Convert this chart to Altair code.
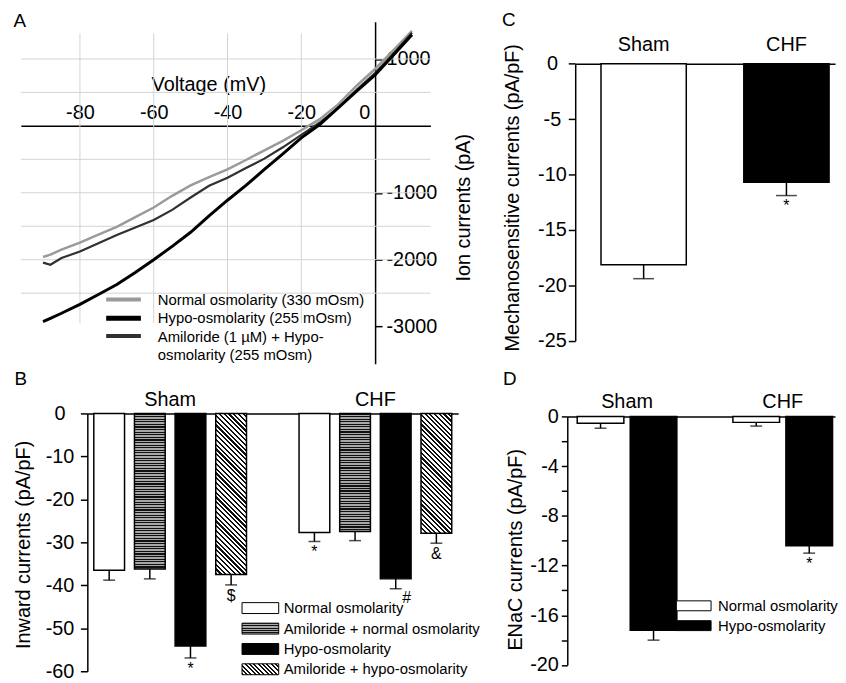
import math
import altair as alt
import pandas as pd

FONT = "Liberation Sans"

# ---------------- Panel A: I-V curves ----------------
a_voltage = [-90, -88, -85, -80, -75, -70, -65, -60, -55, -50, -45, -40,
             -35, -30, -25, -20, -15, -10, -5, 0, 5, 10]
a_normal = [-1960, -1925, -1850, -1745, -1625, -1510, -1365, -1220, -1045, -890, -765, -650,
            -510, -365, -225, -65, 100, 320, 600, 850, 1130, 1420]
a_hypo = [-2925, -2875, -2800, -2667, -2520, -2370, -2190, -2000, -1800, -1590, -1345, -1111,
          -890, -650, -420, -180, 20, 270, 520, 760, 1060, 1360]
a_amiloride = [-2044, -2075, -1975, -1877, -1755, -1630, -1520, -1407, -1255, -1070, -895, -775,
               -630, -490, -320, -135, 50, 270, 540, 790, 1080, 1390]
a_series = ["Normal osmolarity (330 mOsm)", "Hypo-osmolarity (255 mOsm)",
            "Amiloride (1 \u00b5M) + Hypo-\nosmolarity (255 mOsm)"]
a_x_ticks = [-80, -60, -40, -20, 0]
a_y_ticks = [1000, -1000, -2000, -3000]
a_grid_v = [-80, -60, -40, -20]
a_grid_h = [1000, 500, -500, -1000, -1500, -2000, -2500]
a_grid_extent_v = [-2950, 1380]
a_grid_extent_h = [-96, 15]

# ---------------- Panel B: inward currents ----------------
b_groups = ["Sham", "CHF"]
b_conditions = ["Normal osmolarity", "Amiloride + normal osmolarity",
                "Hypo-osmolarity", "Amiloride + hypo-osmolarity"]
b_sham_mean = [-36.5, -36.2, -54.1, -37.5]
b_sham_sem = [2.3, 2.3, 2.8, 2.4]
b_sham_sig = ["", "", "*", "$"]
b_chf_mean = [-27.7, -27.5, -38.5, -27.9]
b_chf_sem = [2.1, 2.1, 2.3, 2.3]
b_chf_sig = ["*", "", "#", "&"]
b_y_ticks = [0, -10, -20, -30, -40, -50, -60]

# ---------------- Panel C: mechanosensitive currents ----------------
c_groups = ["Sham", "CHF"]
c_mean = [-18.15, -10.7]
c_sem = [1.25, 1.2]
c_sig = ["", "*"]
c_y_ticks = [0, -5, -10, -15, -20, -25]

# ---------------- Panel D: ENaC currents ----------------
d_groups = ["Sham", "CHF"]
d_conditions = ["Normal osmolarity", "Hypo-osmolarity"]
d_sham_mean = [-0.55, -17.2]
d_sham_sem = [0.4, 0.8]
d_sham_sig = ["", ""]
d_chf_mean = [-0.48, -10.4]
d_chf_sem = [0.3, 0.6]
d_chf_sig = ["", "*"]
d_y_ticks = [0, -2, -4, -6, -8, -10, -12, -14, -16, -18, -20]


# ---------------- pattern fills (styles) ----------------
def _stops(n, frac, dark, light):
    stops = []
    for k in range(n):
        a, b, c = k / n, (k + frac) / n, (k + 1) / n
        stops += [{"offset": round(a, 5), "color": dark}, {"offset": round(b, 5), "color": dark},
                  {"offset": round(b, 5), "color": light}, {"offset": round(c, 5), "color": light}]
    return stops


def stripes_h(h, period=2.6, dark="#111111", light="#a8a8a8", frac=0.45):
    n = max(1, int(round(h / period)))
    return {"gradient": "linear", "x1": 0, "y1": 0, "x2": 0, "y2": 1,
            "stops": _stops(n, frac, dark, light)}


def hatch(w, h, period=3.4, dark="#111111", light="#ffffff", frac=0.45):
    k = (w + h) / (w * w + h * h)
    n = max(1, int(round((w + h) / math.sqrt(2) / period)))
    return {"gradient": "linear", "x1": 0, "y1": 1, "x2": round(k * w, 5),
            "y2": round(1 - k * h, 5), "stops": _stops(n, frac, dark, light)}


def letter(txt, x, y):
    return alt.Chart(pd.DataFrame({"t": [txt]})).mark_text(
        fontSize=19, align="center", baseline="middle").encode(
        x=alt.value(x), y=alt.value(y), text="t:N")


# =============== Panel A ===============
A_W, A_H = 374, 345
a_xs = alt.Scale(domain=[-96, 15], range=[-67, 346], nice=False, zero=False)
a_ys = alt.Scale(domain=[-3556, 1556], nice=False, zero=False)
a_xaxis = alt.Axis(orient="top", offset=-105, values=a_x_ticks, ticks=False, labelPadding=3,
                   labelExpr="toString(datum.value)",
                   labelOffset={"condition": {"test": "datum.value === 0", "value": -11}, "value": 0},
                   title="Voltage (mV)", titleX=122, titleY=-36, titleBaseline="alphabetic",
                   titleAlign="center", titleAngle=0)
a_yaxis = alt.Axis(orient="right", offset=-83.8, values=a_y_ticks, tickSize=7, labelPadding=4,
                   labelExpr="toString(datum.value)", title="Ion currents (pA)", titleAngle=270,
                   titleX=95, titleY=187, titleBaseline="alphabetic", titleAlign="center")


def AX(f):
    return alt.X(f, type="quantitative", scale=a_xs, axis=a_xaxis)


def AY(f):
    return alt.Y(f, type="quantitative", scale=a_ys, axis=a_yaxis)


a_layers = []
a_layers.append(alt.Chart(pd.DataFrame({"gx": a_grid_v})).mark_rule(color="#d2d2d2", strokeWidth=1).encode(
    x=AX("gx"),
    y=alt.YDatum(a_grid_extent_v[0], type="quantitative", scale=a_ys, axis=a_yaxis),
    y2=alt.Y2Datum(a_grid_extent_v[1])))
a_layers.append(alt.Chart(pd.DataFrame({"gy": a_grid_h})).mark_rule(color="#d2d2d2", strokeWidth=1).encode(
    y=AY("gy"),
    x=alt.XDatum(a_grid_extent_h[0], type="quantitative", scale=a_xs, axis=a_xaxis),
    x2=alt.X2Datum(a_grid_extent_h[1])))

n = len(a_voltage)
df_a = pd.DataFrame({"V": a_voltage * 3, "I": a_normal + a_hypo + a_amiloride,
                     "s": [0] * n + [1] * n + [2] * n})
a_colors = ["#9a9a9a", "#000000", "#303030"]
a_widths = [2.5, 3.0, 2.2]
for s in [0, 2, 1]:
    a_layers.append(alt.Chart(df_a).transform_filter(f"datum.s == {s}").mark_line(
        color=a_colors[s], strokeWidth=a_widths[s]).encode(x=AX("V"), y=AY("I")))

# legend A
a_leg_rows = [280, 299, 317]
a_leg_sw = [4, 5, 4]
for i in range(3):
    a_layers.append(alt.Chart(pd.DataFrame({"k": [i]})).mark_rule(
        color=a_colors[i], strokeWidth=a_leg_sw[i]).encode(
        x=alt.value(19), x2=alt.value(54), y=alt.value(a_leg_rows[i]), y2=alt.value(a_leg_rows[i])))
a_leg_lines = a_series[0:2] + a_series[2].split("\n")
for i, t in enumerate(a_leg_lines):
    a_layers.append(alt.Chart(pd.DataFrame({"t": [t]})).mark_text(
        fontSize=15, align="left", baseline="middle").encode(
        x=alt.value(71), y=alt.value(281 + i * 18.3), text="t:N"))
a_layers.append(letter("A", -68, -1))
chart_a = alt.layer(*a_layers).properties(width=A_W, height=A_H)

# =============== Panel B ===============
B_W, B_H = 374, 260
b_xs = alt.Scale(domain=b_groups, paddingInner=0.2, paddingOuter=0.0035)
b_xos = alt.Scale(domain=b_conditions, paddingInner=0.244, paddingOuter=0.1415)
b_ys = alt.Scale(domain=[-60, 0], nice=False, zero=False)
b_xaxis = alt.Axis(orient="top", ticks=False, labelPadding=4, labelAngle=0, title=None)
b_yaxis = alt.Axis(orient="left", values=b_y_ticks, tickSize=7, labelPadding=21, labelAlign="center",
                   labelExpr="toString(datum.value)", title="Inward currents (pA/pF)",
                   titleAngle=270, titleX=-58, titleY=132, titleBaseline="alphabetic", titleAlign="center")
df_b = pd.DataFrame({
    "group": ["Sham"] * 4 + ["CHF"] * 4,
    "cond": b_conditions * 2,
    "mean": b_sham_mean + b_chf_mean,
    "sem": b_sham_sem + b_chf_sem,
    "sig": b_sham_sig + b_chf_sig,
    "idx": list(range(8)),
})
BX = alt.X("group:N", scale=b_xs, axis=b_xaxis)
BXO = alt.XOffset("cond:N", scale=b_xos)


def BY(f, **kw):
    return alt.Y(f, type="quantitative", scale=b_ys, axis=b_yaxis, **kw)


b_step = B_W / (2 - 0.2 + 2 * 0.0035)
b_step2 = b_step * 0.8 / (4 - 0.244 + 2 * 0.1415)
b_barw = b_step2 * (1 - 0.244)
b_ppu = B_H / 60.0


def b_fill(i):
    c = i % 4
    h = abs(df_b["mean"][i]) * b_ppu
    if c == 0:
        return "#ffffff"
    if c == 1:
        return stripes_h(h)
    if c == 2:
        return "#000000"
    return hatch(b_barw, h)


b_layers = []
for i in range(8):
    b_layers.append(alt.Chart(df_b).transform_filter(f"datum.idx == {i}").mark_bar(
        fill=b_fill(i), stroke="black", strokeWidth=1.5).encode(
        x=BX, xOffset=BXO, y=BY("mean", stack=None), y2=alt.Y2Datum(0)))
b_err = alt.Chart(df_b).transform_calculate(lo="datum.mean - datum.sem")
b_layers.append(b_err.mark_rule(color="black", strokeWidth=1.5).encode(
    x=BX, xOffset=BXO, y=BY("lo"), y2=alt.Y2("mean:Q")))
b_layers.append(b_err.mark_tick(color="black", thickness=1.5, size=12).encode(
    x=BX, xOffset=BXO, y=BY("lo")))
b_layers.append(b_err.transform_filter("datum.sig != '#'").mark_text(baseline="top", dy=3, fontSize=16).encode(
    x=BX, xOffset=BXO, y=BY("lo"), text="sig:N"))
b_layers.append(b_err.transform_filter("datum.sig == '#'").mark_text(baseline="top", dy=1, dx=11, fontSize=16).encode(
    x=BX, xOffset=BXO, y=BY("lo"), text="sig:N"))
# legend B
b_leg_rows = [196.3, 217, 237.5, 258]
b_leg_fills = ["#ffffff", stripes_h(11, period=2.4), "#000000", hatch(37, 11, period=3.2)]
for i in range(4):
    r = b_leg_rows[i]
    b_layers.append(alt.Chart(pd.DataFrame({"k": [i]})).mark_rect(
        fill=b_leg_fills[i], stroke="black", strokeWidth=1).encode(
        x=alt.value(156), x2=alt.value(193), y=alt.value(r - 5.5), y2=alt.value(r + 5.5)))
    b_layers.append(alt.Chart(pd.DataFrame({"t": [b_conditions[i]]})).mark_text(
        fontSize=15, align="left", baseline="middle").encode(
        x=alt.value(198), y=alt.value(r), text="t:N"))
b_layers.append(letter("B", -67, -35))
chart_b = alt.layer(*b_layers).properties(width=B_W, height=B_H)

# =============== Panel C ===============
C_W, C_H = 270, 321.7
c_xs = alt.Scale(domain=c_groups, range=[8, 270], paddingInner=0.4028, paddingOuter=0.1111, align=0.8125)
c_ys = alt.Scale(domain=[-25, 0], range=[321.7, 42.3], nice=False, zero=False)
c_xaxis = alt.Axis(orient="top", offset=-42.3, ticks=False, labelPadding=9, labelAngle=0, title=None)
c_yaxis = alt.Axis(orient="left", offset=-8, values=c_y_ticks, tickSize=7, labelPadding=16.5, labelAlign="center",
                   labelExpr="toString(datum.value)", title="Mechanosensitive currents (pA/pF)",
                   titleAngle=270, titleX=-57, titleY=177, titleBaseline="alphabetic", titleAlign="center")
df_c = pd.DataFrame({"group": c_groups, "mean": c_mean, "sem": c_sem, "sig": c_sig, "idx": [0, 1]})
CX = alt.X("group:N", scale=c_xs, axis=c_xaxis)


def CY(f, **kw):
    return alt.Y(f, type="quantitative", scale=c_ys, axis=c_yaxis, **kw)


c_layers = []
c_fills = ["#ffffff", "#000000"]
for i in range(2):
    c_layers.append(alt.Chart(df_c).transform_filter(f"datum.idx == {i}").mark_bar(
        fill=c_fills[i], stroke="black", strokeWidth=1.5).encode(
        x=CX, y=CY("mean", stack=None), y2=alt.Y2Datum(0)))
c_err = alt.Chart(df_c).transform_calculate(lo="datum.mean - datum.sem")
c_layers.append(c_err.mark_rule(color="black", strokeWidth=1.5).encode(x=CX, y=CY("lo"), y2=alt.Y2("mean:Q")))
c_layers.append(c_err.mark_tick(color="black", thickness=1.5, size=21).encode(x=CX, y=CY("lo")))
c_layers.append(c_err.mark_text(baseline="top", dy=3, fontSize=16).encode(x=CX, y=CY("lo"), text="sig:N"))
c_layers.append(letter("C", -59, -2))
chart_c = alt.layer(*c_layers).properties(width=C_W, height=C_H)

# =============== Panel D ===============
D_W, D_H = 270, 253.7
d_xs = alt.Scale(domain=d_groups, paddingInner=0.36, paddingOuter=0.0399, align=0.8)
d_xos = alt.Scale(domain=d_conditions, paddingInner=0.12, paddingOuter=0)
d_ys = alt.Scale(domain=[-20, 0], range=[253.7, 3], nice=False, zero=False)
d_xaxis = alt.Axis(orient="top", offset=-3, ticks=False, labelPadding=5, labelAngle=0, title=None)
d_yaxis = alt.Axis(orient="left", values=d_y_ticks, tickSize=6, labelPadding=3,
                   labelExpr="datum.value % 4 === 0 ? toString(datum.value) : ''",
                   title="ENaC currents (pA/pF)", titleAngle=270, titleX=-46, titleY=137,
                   titleBaseline="alphabetic", titleAlign="center")
df_d = pd.DataFrame({
    "group": ["Sham"] * 2 + ["CHF"] * 2,
    "cond": d_conditions * 2,
    "mean": d_sham_mean + d_chf_mean,
    "sem": d_sham_sem + d_chf_sem,
    "sig": d_sham_sig + d_chf_sig,
    "idx": list(range(4)),
})
DX = alt.X("group:N", scale=d_xs, axis=d_xaxis)
DXO = alt.XOffset("cond:N", scale=d_xos)


def DY(f, **kw):
    return alt.Y(f, type="quantitative", scale=d_ys, axis=d_yaxis, **kw)


d_layers = []
d_fills = ["#ffffff", "#000000", "#ffffff", "#000000"]
for i in range(4):
    d_layers.append(alt.Chart(df_d).transform_filter(f"datum.idx == {i}").mark_bar(
        fill=d_fills[i], stroke="black", strokeWidth=1.5).encode(
        x=DX, xOffset=DXO, y=DY("mean", stack=None), y2=alt.Y2Datum(0)))
d_err = alt.Chart(df_d).transform_calculate(lo="datum.mean - datum.sem")
d_layers.append(d_err.mark_rule(color="black", strokeWidth=1.5).encode(
    x=DX, xOffset=DXO, y=DY("lo"), y2=alt.Y2("mean:Q")))
d_layers.append(d_err.mark_tick(color="black", thickness=1.5, size=12).encode(
    x=DX, xOffset=DXO, y=DY("lo")))
d_layers.append(d_err.mark_text(baseline="top", dy=3, fontSize=16).encode(
    x=DX, xOffset=DXO, y=DY("lo"), text="sig:N"))
d_leg_rows = [194, 214]
d_leg_fills = ["#ffffff", "#000000"]
for i in range(2):
    r = d_leg_rows[i]
    d_layers.append(alt.Chart(pd.DataFrame({"k": [i]})).mark_rect(
        fill=d_leg_fills[i], stroke="black", strokeWidth=1).encode(
        x=alt.value(110), x2=alt.value(145), y=alt.value(r - 5), y2=alt.value(r + 5)))
    d_layers.append(alt.Chart(pd.DataFrame({"t": [d_conditions[i]]})).mark_text(
        fontSize=15, align="left", baseline="middle").encode(
        x=alt.value(152), y=alt.value(r), text="t:N"))
d_layers.append(letter("D", -58, -35))
chart_d = alt.layer(*d_layers).properties(width=D_W, height=D_H)

# =============== assemble ===============
chart = alt.concat(chart_a, chart_c, chart_b, chart_d, columns=2,
                   spacing={"row": 50, "column": 110}, bounds="flush").resolve_scale(
    xOffset="independent"
).properties(
    padding={"left": 5, "top": 0, "right": 0, "bottom": 0}
).configure_view(stroke=None).configure_axis(
    labelFont=FONT, titleFont=FONT, labelFontSize=20, titleFontSize=20,
    labelColor="black", titleColor="black", titleFontWeight="normal",
    domainColor="black", tickColor="black", domainWidth=1.5, tickWidth=1.5, grid=False
).configure_text(font=FONT, color="black")

chart.save("out.html", embed_options={"renderer": "svg", "actions": False})
